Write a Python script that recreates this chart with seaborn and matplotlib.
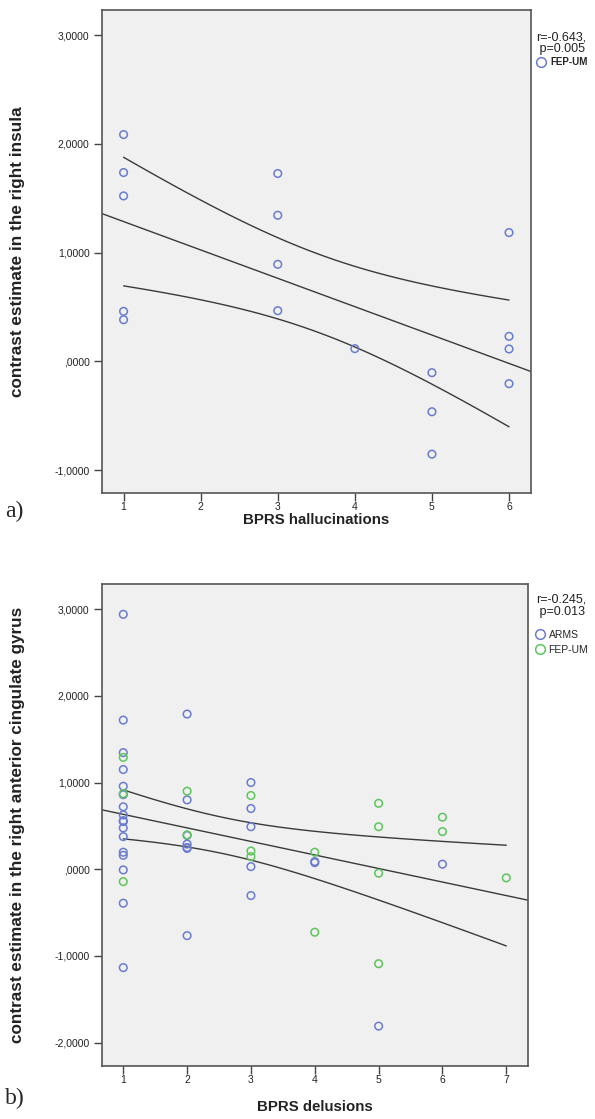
import numpy as np
import pandas as pd
import seaborn as sns
import matplotlib.pyplot as plt
from matplotlib.lines import Line2D

# a) BPRS hallucinations vs. right insula (FEP-UM only)
hall_x = [1, 1, 1, 1, 1, 3, 3, 3, 3, 4, 5, 5, 5, 6, 6, 6, 6]
hall_y = [2.085, 1.736, 1.521, 0.460, 0.383,
          1.727, 1.343, 0.892, 0.466,
          0.117,
          -0.104, -0.463, -0.853,
          1.184, 0.230, 0.114, -0.205]

# b) BPRS delusions vs. right anterior cingulate gyrus
arms_x = [1] * 17 + [2] * 7 + [3] * 5 + [4] * 2 + [5] + [6]
arms_y = [2.94, 1.72, 1.345, 1.15, 0.957, 0.86, 0.72, 0.626, 0.56, 0.55,
          0.476, 0.376, 0.196, 0.16, -0.008, -0.392, -1.135,
          1.79, 0.80, 0.39, 0.29, 0.25, 0.24, -0.766,
          1.00, 0.70, 0.49, 0.03, -0.304,
          0.088, 0.076,
          -1.81,
          0.058]
fep_x = [1, 1, 1, 2, 2, 3, 3, 3, 4, 4, 5, 5, 5, 5, 6, 6, 7]
fep_y = [1.29, 0.872, -0.143,
         0.90, 0.396,
         0.85, 0.21, 0.145,
         0.196, -0.727,
         0.76, 0.49, -0.046, -1.09,
         0.60, 0.434,
         -0.10]

yticks_a = [-1, 0, 1, 2, 3]
ylabels_a = ['-1,0000', ',0000', '1,0000', '2,0000', '3,0000']
yticks_b = [-2, -1, 0, 1, 2, 3]
ylabels_b = ['-2,0000', '-1,0000', ',0000', '1,0000', '2,0000', '3,0000']

blue = '#6a7cd0'
green = '#5cc65c'
line_col = '#3a3a3a'

sns.set_theme(style='ticks')
plt.rcParams['font.family'] = ['Liberation Sans', 'DejaVu Sans']


def t975(df):
    # approx 97.5% t quantile
    z = 1.959964
    return z + (z**3 + z) / (4 * df) + (5 * z**5 + 16 * z**3 + 3 * z) / (96 * df**2)


def mean_ci(x, y, grid):
    x = np.asarray(x, float)
    y = np.asarray(y, float)
    n = len(x)
    b1, b0 = np.polyfit(x, y, 1)
    s = np.sqrt(np.sum((y - (b0 + b1 * x))**2) / (n - 2))
    se = s * np.sqrt(1 / n + (grid - x.mean())**2 / np.sum((x - x.mean())**2))
    fit = b0 + b1 * grid
    return fit - t975(n - 2) * se, fit + t975(n - 2) * se


def panel(ax, xs, ys, cols, xlim, ylim, xticks, yticks, ylabels, xlabel, ylabel):
    ax.set_facecolor('#f0f0f0')
    ax.set_xlim(xlim)
    ax.set_ylim(ylim)
    all_x = np.concatenate([np.asarray(v, float) for v in xs])
    all_y = np.concatenate([np.asarray(v, float) for v in ys])
    sns.regplot(x=all_x, y=all_y, ax=ax, scatter=False, ci=None, truncate=False,
                line_kws=dict(color=line_col, lw=1.0))
    grid = np.linspace(all_x.min(), all_x.max(), 100)
    lo, hi = mean_ci(all_x, all_y, grid)
    sns.lineplot(x=grid, y=lo, ax=ax, color=line_col, lw=1.0)
    sns.lineplot(x=grid, y=hi, ax=ax, color=line_col, lw=1.0)
    for x, y, c in zip(xs, ys, cols):
        sns.scatterplot(x=x, y=y, ax=ax, marker='o', s=30, color=c,
                        facecolors='none', edgecolor=c, linewidth=1.1, zorder=3)
    ax.set_xlim(xlim)
    ax.set_ylim(ylim)
    ax.set_xticks(xticks)
    ax.set_yticks(yticks)
    ax.set_yticklabels(ylabels)
    for sp in ax.spines.values():
        sp.set_visible(True)
        sp.set_color('#555555')
        sp.set_linewidth(1.2)
    ax.tick_params(direction='out', length=6, width=1, color='#444444',
                   labelsize=7.5, labelcolor='#222222', pad=3)
    ax.tick_params(axis='x', length=5.5, pad=1)
    ax.set_xlabel(xlabel, fontsize=10.8, fontweight='bold', color='#222222')
    ax.set_ylabel(ylabel, fontsize=12.3, fontweight='bold', color='#222222')


fig = plt.figure(figsize=(5.95, 11.19), dpi=100)
W, H = 595, 1119

ax1 = fig.add_axes([102 / W, 1 - 493 / H, 429 / W, 483 / H])
panel(ax1, [hall_x], [hall_y], [blue], (0.72, 6.285), (-1.21, 3.23),
      [1, 2, 3, 4, 5, 6], yticks_a, ylabels_a,
      'BPRS hallucinations', 'contrast estimate in the right insula')
ax1.xaxis.set_label_coords(0.5, -0.041)
ax1.yaxis.set_label_coords(-0.18, 0.5)

ax2 = fig.add_axes([102 / W, 1 - 1066 / H, 426 / W, 482 / H])
panel(ax2, [arms_x, fep_x], [arms_y, fep_y], [blue, green], (0.667, 7.34), (-2.27, 3.29),
      [1, 2, 3, 4, 5, 6, 7], yticks_b, ylabels_b,
      'BPRS delusions', 'contrast estimate in the right anterior cingulate gyrus')
ax2.xaxis.set_label_coords(0.5, -0.07)
ax2.yaxis.set_label_coords(-0.181, 0.5)

# correlation text
fig.text(536 / W, 1 - 31 / H, 'r=-0.643,\n p=0.005', fontsize=9, va='top', ha='left',
         linespacing=1.05, color='#222222')
fig.text(536 / W, 1 - 594 / H, 'r=-0.245,\n p=0.013', fontsize=9, va='top', ha='left',
         linespacing=1.05, color='#222222')


# legends
def handle(c):
    return Line2D([], [], marker='o', ls='none', markerfacecolor='none',
                  markeredgecolor=c, markersize=7, markeredgewidth=1.1)


fig.legend([handle(blue)], ['FEP-UM'], loc='upper left', bbox_to_anchor=(537 / W, 1 - 57 / H),
           frameon=False, handlelength=0.9, handletextpad=0.45,
           borderpad=0, borderaxespad=0, prop=dict(size=7, weight='bold'))
fig.legend([handle(blue), handle(green)], ['ARMS', 'FEP-UM'], loc='upper left',
           bbox_to_anchor=(535 / W, 1 - 630 / H), frameon=False,
           handlelength=0.9, handletextpad=0.4, labelspacing=0.45,
           borderpad=0, borderaxespad=0, prop=dict(size=7.5))

fig.text(5 / W, 1 - 511 / H, 'a)', fontsize=17, family=['Liberation Serif', 'DejaVu Serif'],
         va='center', ha='left')
fig.text(5 / W, 1 - 1098 / H, 'b)', fontsize=17, family=['Liberation Serif', 'DejaVu Serif'],
         va='center', ha='left')

fig.savefig('out.png', dpi=100)
